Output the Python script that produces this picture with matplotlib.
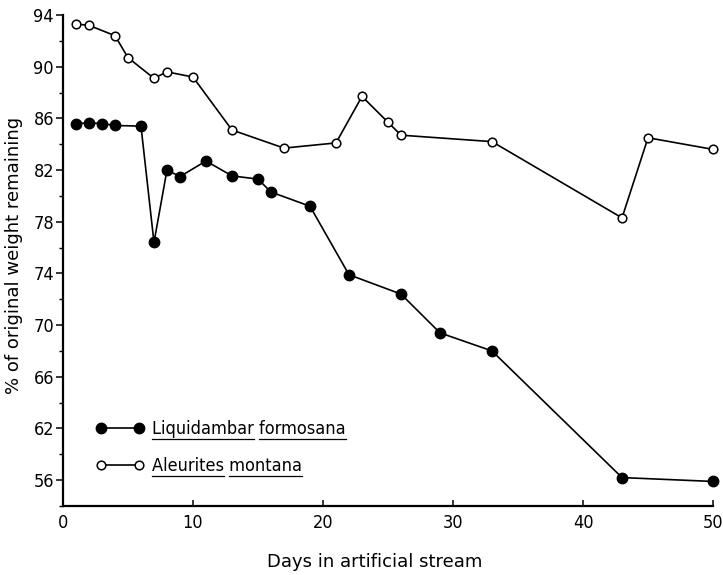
import matplotlib
matplotlib.use("Agg")
import matplotlib.pyplot as plt
from matplotlib.ticker import MultipleLocator
from matplotlib.lines import Line2D
from matplotlib import font_manager

# Days in artificial stream
days_aleurites = [1, 2, 4, 5, 7, 8, 10, 13, 17, 21, 23, 25, 26, 33, 43, 45, 50]
pct_aleurites = [93.3, 93.2, 92.4, 90.7, 89.1, 89.6, 89.2, 85.1, 83.7, 84.1,
                 87.7, 85.7, 84.7, 84.2, 78.3, 84.5, 83.6]

days_liquidambar = [1, 2, 3, 4, 6, 7, 8, 9, 11, 13, 15, 16, 19, 22, 26, 29, 33, 43, 50]
pct_liquidambar = [85.6, 85.65, 85.6, 85.45, 85.4, 76.4, 82.0, 81.5, 82.7, 81.55,
                   81.3, 80.3, 79.2, 73.9, 72.4, 69.4, 68.0, 58.2, 57.9]

labels = ["Liquidambar formosana", "Aleurites montana"]

# the original figure prints "56" where 58 would fall on the linear scale
ytick_pos = [94, 90, 86, 82, 78, 74, 70, 66, 62, 58]
ytick_labels = ["94", "90", "86", "82", "78", "74", "70", "66", "62", "56"]
xtick_pos = [0, 10, 20, 30, 40, 50]

narrow = font_manager.FontProperties(family="DejaVu Sans", stretch="condensed", size=13)

fig = plt.figure(figsize=(7.23, 5.75), dpi=100)
ax = fig.add_axes([0.0871, 0.12, 0.8991, 0.8539])

ax.plot(days_liquidambar, pct_liquidambar, color="black", lw=1.2,
        marker="o", ms=7.5, mfc="black", mec="black", clip_on=False)
ax.plot(days_aleurites, pct_aleurites, color="black", lw=1.2,
        marker="o", ms=6.2, mfc="white", mec="black", mew=1.1, clip_on=False)

ax.set_xlim(0, 50)
ax.set_ylim(56, 94)

for side in ["top", "right"]:
    ax.spines[side].set_visible(False)
for side in ["left", "bottom"]:
    ax.spines[side].set_linewidth(1.6)

ax.set_yticks(ytick_pos)
ax.set_yticklabels(ytick_labels, fontproperties=narrow)
ax.yaxis.set_minor_locator(MultipleLocator(2))
ax.tick_params(axis="y", which="major", direction="out", length=5, width=1.1, pad=1.5)
ax.tick_params(axis="y", which="minor", direction="out", length=3, width=1.0)

ax.set_xticks(xtick_pos)
ax.set_xticklabels([str(v) for v in xtick_pos], fontproperties=narrow)
ax.tick_params(axis="x", which="major", direction="in", length=4, width=1.1, pad=6)

ax.set_xlabel("Days in artificial stream", fontsize=13)
ax.set_ylabel("% of original weight remaining", fontsize=13)
ax.xaxis.set_label_coords(0.48, -0.096)
ax.yaxis.set_label_coords(-0.062, 0.51)

handles = [
    Line2D([], [], color="black", lw=1.2, marker="o", ms=7.5, mfc="black", mec="black"),
    Line2D([], [], color="black", lw=1.2, marker="o", ms=6.2, mfc="white", mec="black", mew=1.1),
]
leg = ax.legend(handles, labels, loc="lower left", bbox_to_anchor=(0.036, 0.045),
                frameon=False, numpoints=2, handlelength=2.7, handletextpad=0.45,
                labelspacing=1.05, borderpad=0, prop=narrow)

# underline each word of the legend labels separately
fig.canvas.draw()
renderer = fig.canvas.get_renderer()
for txt in leg.get_texts():
    s = txt.get_text()
    bb = txt.get_window_extent(renderer)
    prop = txt.get_fontproperties()
    start = 0
    for word in s.split(" "):
        idx = s.index(word, start)
        w0 = renderer.get_text_width_height_descent(s[:idx], prop, ismath=False)[0] if idx else 0
        w1 = renderer.get_text_width_height_descent(s[:idx + len(word)], prop, ismath=False)[0]
        start = idx + len(word)
        y = bb.y0 - 1
        x0, y0 = fig.transFigure.inverted().transform((bb.x0 + w0, y))
        x1, _ = fig.transFigure.inverted().transform((bb.x0 + w1, y))
        fig.add_artist(Line2D([x0, x1], [y0, y0], color="black", lw=0.9,
                              transform=fig.transFigure))

fig.savefig("out.png", dpi=100)
